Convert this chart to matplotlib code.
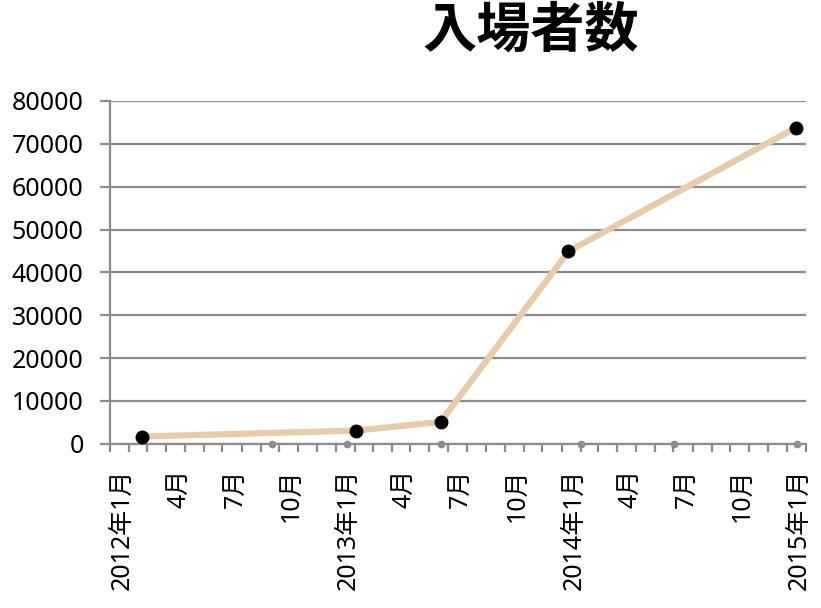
import datetime as dt
import matplotlib
matplotlib.use('Agg')
import matplotlib.pyplot as plt
import matplotlib.dates as mdates

plt.rcParams['font.family'] = ['Noto Sans', 'Noto Sans CJK JP', 'DejaVu Sans']

# visitor counts
visit_dates = [dt.date(2012, 2, 22), dt.date(2013, 2, 3), dt.date(2013, 6, 19),
               dt.date(2014, 1, 12), dt.date(2015, 1, 16)]
visitors = [1700, 3100, 5100, 44900, 73800]

# second series sitting on zero (small grey dots)
zero_dates = [dt.date(2012, 9, 19), dt.date(2013, 1, 18), dt.date(2013, 6, 19),
              dt.date(2014, 2, 1), dt.date(2014, 7, 2), dt.date(2015, 1, 17)]
zero_vals = [0, 0, 0, 0, 0, 0]

label_months = [(2012, 1), (2012, 4), (2012, 7), (2012, 10),
                (2013, 1), (2013, 4), (2013, 7), (2013, 10),
                (2014, 1), (2014, 4), (2014, 7), (2014, 10),
                (2015, 1)]
labels = [f'{y}年{m}月' if m == 1 else f'{m}月' for y, m in label_months]

fig = plt.figure(figsize=(8.21, 6.08), dpi=100)
ax = fig.add_axes([0.134, 0.270, 0.848, 0.564])

grey = '#8c8c8c'
ax.plot(visit_dates, visitors, color='#e8cbaa', lw=4.5, zorder=3,
        solid_capstyle='round')
ax.plot(visit_dates, visitors, 'o', color='black', ms=9, zorder=4)
ax.plot(zero_dates, zero_vals, 'o', color=grey, ms=4.5, zorder=2, clip_on=False)

ax.set_xlim(dt.date(2012, 1, 1), dt.date(2015, 2, 1))
ax.set_ylim(0, 80000)
ax.set_yticks(range(0, 80001, 10000))
ax.yaxis.grid(True, color=grey, lw=1.6)
ax.set_axisbelow(True)

# month ticks on minor, labels on major (no tick mark)
ax.xaxis.set_minor_locator(mdates.MonthLocator())
ax.set_xticks([mdates.date2num(dt.date(y, m, 21)) for y, m in label_months])
ax.set_xticklabels(labels, rotation=90, va='top', ha='center')
ax.tick_params(axis='x', which='major', length=0, pad=18, labelsize=18)
ax.tick_params(axis='x', which='minor', length=6, width=1.6, color=grey,
               direction='out')
ax.tick_params(axis='y', length=7, width=1.6, color=grey, labelsize=18, pad=12)

for s in ['top', 'right']:
    ax.spines[s].set_visible(False)
for s in ['left', 'bottom']:
    ax.spines[s].set_color(grey)
    ax.spines[s].set_linewidth(1.6)

fig.text(0.646, 0.947, '入場者数', ha='center', va='center',
         fontsize=39, fontweight='bold')

fig.savefig('out.png', dpi=100)
